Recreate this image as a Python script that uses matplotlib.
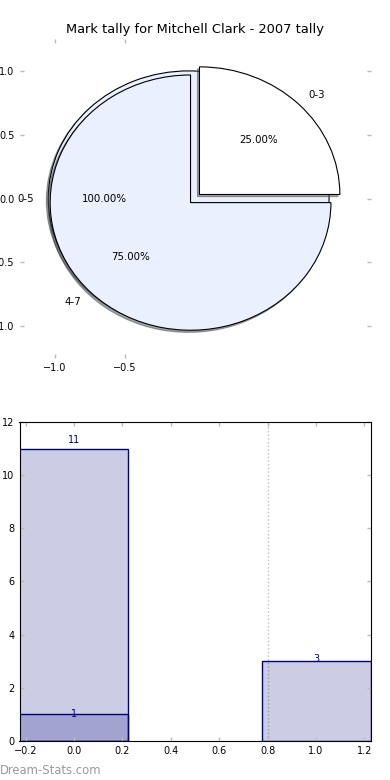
import matplotlib
matplotlib.use("Agg")
import matplotlib.pyplot as plt

# ---- data ----
title = "Mark tally for Mitchell Clark - 2007 tally"
pie_all_labels = ["0-5"]
pie_all_values = [1]
pie_labels = ["0-3", "4-7"]
pie_values = [1, 3]
pie_explode_all = [0.045]
pie_explode = [0.045, 0.045]
pie_colors = ["white", "#EAF0FD"]

bar_x = [0, 1]
bar_counts = [11, 3]
bar2_x = [0]
bar2_counts = [1]
bar_width = 0.45
vline_x = 0.8

plt.rcParams['font.family'] = ['DejaVu Sans']

fig = plt.figure(figsize=(3.9, 7.8), dpi=100)
fig.subplots_adjust(left=0.05, right=0.95, bottom=0.05, top=0.95, hspace=0.2)
ax1 = fig.add_subplot(2, 1, 1)
ax2 = fig.add_subplot(2, 1, 2)

tick_gray = "#bbbbbb"
shadow_style = {'ox': -0.01, 'oy': -0.012}

# ---- pie ----
w1, t1, a1 = ax1.pie(pie_all_values, labels=pie_all_labels, explode=pie_explode_all,
                     colors=[pie_colors[1]], autopct="%.2f%%", shadow=shadow_style,
                     wedgeprops=dict(edgecolor="black", linewidth=0.8, zorder=1),
                     textprops=dict(fontsize=7.4))
w2, t2, a2 = ax1.pie(pie_values, labels=pie_labels, explode=pie_explode,
                     colors=pie_colors, autopct="%.2f%%", shadow=shadow_style,
                     wedgeprops=dict(edgecolor="black", linewidth=0.8, zorder=2),
                     textprops=dict(fontsize=7.4))
for t in list(t1) + list(t2) + list(a1) + list(a2):
    t.set_zorder(5)
ax1.set_aspect('auto')
ax1.set_frame_on(False)
ax1.set_xlim(-1.25, 1.25)
ax1.set_ylim(-1.25, 1.25)
ax1.set_xticks([-1.0, -0.5])
ax1.set_yticks([-1.0, -0.5, 0.0, 0.5, 1.0])
ax1.tick_params(direction='in', length=3, width=1, color=tick_gray, labelsize=7,
                top=True, right=True, bottom=True, left=True)
ax1.set_title(title, fontsize=9.4, pad=4)

# ---- bars ----
face = (0.0, 0.0, 0.5, 0.2)
ax2.axvline(vline_x, color="#c0c0c0", linestyle=":", linewidth=1, zorder=0.5)
ax2.bar(bar_x, bar_counts, width=bar_width, color=face, edgecolor="navy", linewidth=1)
ax2.bar(bar2_x, bar2_counts, width=bar_width, color=face, edgecolor="navy", linewidth=1)
for xs, hs in ((bar_x, bar_counts), (bar2_x, bar2_counts)):
    for xv, hv in zip(xs, hs):
        ax2.text(xv, hv * 1.03, str(hv), ha='center', va='center', color='navy', fontsize=7)
ax2.set_xlim(min(bar_x) - bar_width / 2, max(bar_x) + bar_width / 2)
ax2.set_ylim(0, 12)
ax2.set_yticks(range(0, 13, 2))
ax2.tick_params(direction='in', length=3, width=1, color=tick_gray, labelsize=7,
                top=True, right=True, bottom=True, left=True)

fig.text(0.0, 1 - 770 / 780, "Dream-Stats.com", ha='left', va='center',
         color="#999999", fontsize=8.4)

fig.savefig("out.png", dpi=100)
